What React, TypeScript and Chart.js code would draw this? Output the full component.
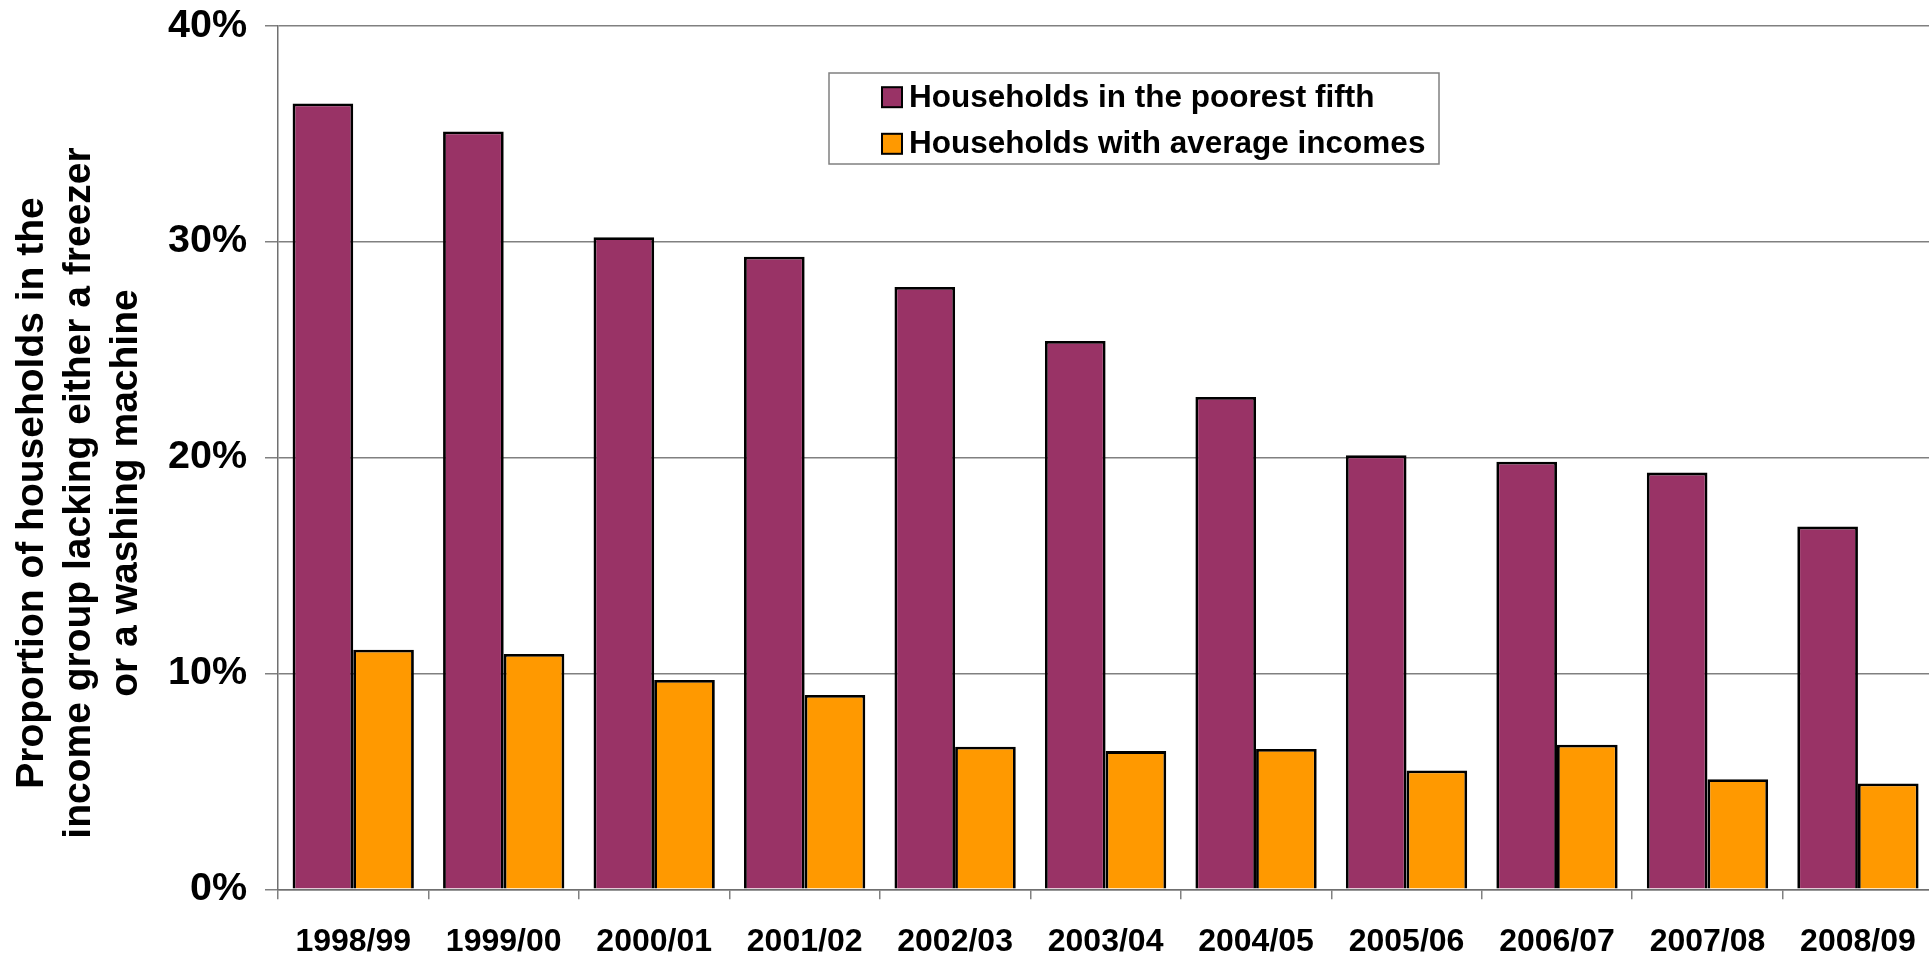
import { useEffect, useRef } from "react";
import { Chart, registerables } from "chart.js";

Chart.register(...registerables);

const categories = [
  "1998/99", "1999/00", "2000/01", "2001/02", "2002/03", "2003/04",
  "2004/05", "2005/06", "2006/07", "2007/08", "2008/09",
];
const poorestFifth = [36.4, 35.1, 30.2, 29.3, 27.9, 25.4, 22.8, 20.1, 19.8, 19.3, 16.8];
const averageIncomes = [11.1, 10.9, 9.7, 9.0, 6.6, 6.4, 6.5, 5.5, 6.7, 5.1, 4.9];
const seriesLabels = ["Households in the poorest fifth", "Households with average incomes"];
const yTitleLines = [
  "Proportion of households in the",
  "income group lacking either a freezer",
  "or a washing machine",
];
const yMax = 40;
const yStep = 10;

const FONT = "'Liberation Sans', Arial, sans-serif";

const overlay = {
  id: "overlay",
  afterDraw(chart: any) {
    const ctx = chart.ctx as CanvasRenderingContext2D;
    ctx.save();
    // Y axis title (three rotated lines)
    ctx.font = `bold 39px ${FONT}`;
    ctx.fillStyle = "#000";
    ctx.textAlign = "center";
    ctx.textBaseline = "alphabetic";
    const cy = 493;
    const baselines = [43, 90, 137];
    yTitleLines.forEach((line, i) => {
      ctx.save();
      ctx.translate(baselines[i], cy);
      ctx.rotate(-Math.PI / 2);
      ctx.fillText(line, 0, 0);
      ctx.restore();
    });

    // Legend box
    ctx.strokeStyle = "#808080";
    ctx.lineWidth = 1.5;
    ctx.strokeRect(829, 73, 610, 91);
    const rowsBase = [106.7, 153.3];
    ctx.font = `bold 31.5px ${FONT}`;
    ctx.textAlign = "left";
    chart.data.datasets.forEach((ds: any, i: number) => {
      const top = rowsBase[i] - 19.5;
      ctx.fillStyle = ds.backgroundColor;
      ctx.fillRect(882, top, 20, 20);
      ctx.strokeStyle = "#000";
      ctx.lineWidth = 2;
      ctx.strokeRect(882, top, 20, 20);
      ctx.fillStyle = "#000";
      ctx.fillText(ds.label, 909, rowsBase[i]);
    });
    ctx.restore();
  },
};

export default function App() {
  const ref = useRef<HTMLCanvasElement>(null);

  useEffect(() => {
    if (!ref.current) return;
    const chart = new Chart(ref.current, {
      type: "bar",
      data: {
        labels: categories,
        datasets: [
          {
            label: seriesLabels[0],
            data: poorestFifth,
            backgroundColor: "#993366",
            borderColor: "#000000",
            borderWidth: 2.8,
            barPercentage: 1,
            categoryPercentage: 0.806,
          },
          {
            label: seriesLabels[1],
            data: averageIncomes,
            backgroundColor: "#FF9900",
            borderColor: "#000000",
            borderWidth: 2.8,
            barPercentage: 1,
            categoryPercentage: 0.806,
          },
        ],
      },
      options: {
        responsive: false,
        animation: false,
        layout: { padding: { top: 25.7, left: 0, right: 5, bottom: 0 } },
        plugins: {
          legend: { display: false },
          tooltip: { enabled: false },
          title: { display: false },
        },
        scales: {
          x: {
            grid: {
              display: true,
              drawOnChartArea: false,
              drawTicks: true,
              tickLength: 10,
              offset: true,
              color: "#808080",
              lineWidth: 1.5,
            },
            border: { display: true, color: "#707070", width: 1.5 },
            ticks: {
              color: "#000",
              font: { family: FONT, size: 32, weight: "bold" },
              padding: 24,
              maxRotation: 0,
              autoSkip: false,
            },
            afterFit: (scale: any) => {
              scale.height = 63.7;
            },
          },
          y: {
            min: 0,
            max: yMax,
            grid: {
              color: "#808080",
              lineWidth: 1.5,
              tickLength: 13,
            },
            border: { display: true, color: "#707070", width: 1.5 },
            ticks: {
              stepSize: yStep,
              color: "#000",
              font: { family: FONT, size: 39.5, weight: "bold", lineHeight: 0.3 },
              padding: 18,
              callback: (v: any) => `${v}%`,
            },
            afterFit: (scale: any) => {
              scale.width = 278;
            },
          },
        },
      },
      plugins: [overlay],
    });
    return () => chart.destroy();
  }, []);

  return (
    <div
      style={{
        position: "absolute",
        left: 0,
        top: 0,
        width: 1929,
        height: 953,
        overflow: "hidden",
        background: "#fff",
      }}
    >
      <canvas ref={ref} width={1940} height={953} style={{ display: "block" }} />
    </div>
  );
}
